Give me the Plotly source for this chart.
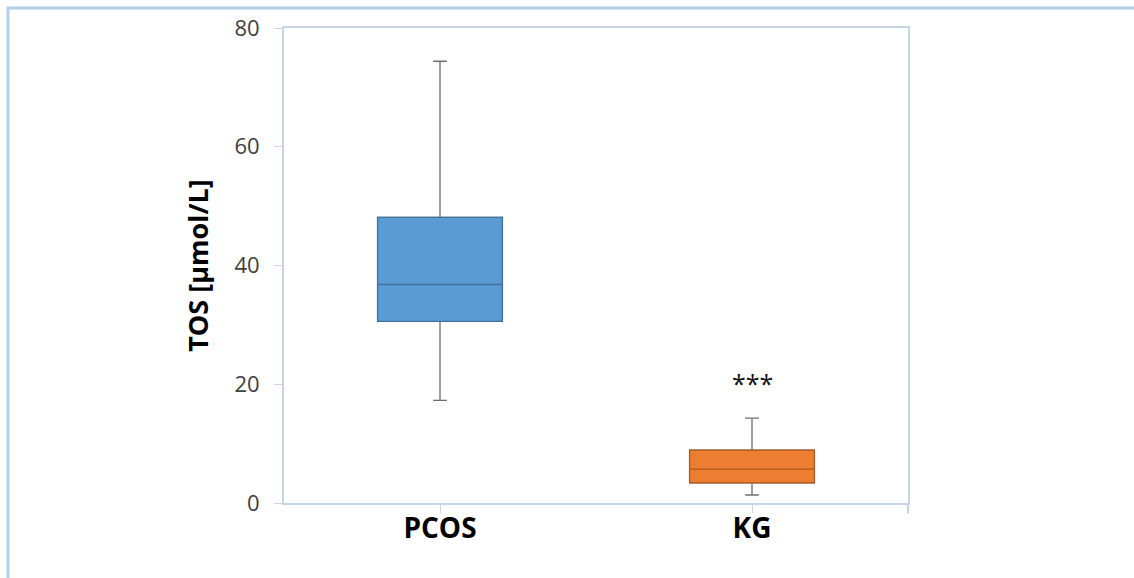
import plotly.graph_objects as go

# ---- data ----
groups = ["PCOS", "KG"]
lower_whisker = [17.3, 1.35]
q1_values = [30.6, 3.4]
median_values = [36.8, 5.7]
q3_values = [48.1, 8.9]
upper_whisker = [74.4, 14.3]
fill_colors = ["#5B9BD5", "#ED7D31"]
edge_colors = ["#41719C", "#AE5A21"]
y_ticks = [0, 20, 40, 60, 80]
sig_label = "***"
sig_group = "KG"
sig_y = 20.2
y_title = "TOS [µmol/L]"

W, H = 1134, 578
L, R, T, B = 284, 226, 28, 75

fig = go.Figure()
for i, g in enumerate(groups):
    # full box with grey whiskers
    fig.add_trace(go.Box(
        x=[g], q1=[q1_values[i]], median=[median_values[i]], q3=[q3_values[i]],
        lowerfence=[lower_whisker[i]], upperfence=[upper_whisker[i]],
        fillcolor=fill_colors[i], line=dict(color="#6e6e6e", width=1.3),
        width=0.4, whiskerwidth=0.11, showlegend=False, hoverinfo="skip",
        boxpoints=False,
    ))
    # box body with coloured outline on top
    fig.add_trace(go.Box(
        x=[g], q1=[q1_values[i]], median=[median_values[i]], q3=[q3_values[i]],
        lowerfence=[q1_values[i]], upperfence=[q3_values[i]],
        fillcolor=fill_colors[i], line=dict(color=edge_colors[i], width=1.3),
        width=0.4, whiskerwidth=0, showlegend=False, hoverinfo="skip",
        boxpoints=False,
    ))

fig.add_annotation(x=sig_group, y=sig_y, text=sig_label, showarrow=False,
                   xref="x", yref="y", yanchor="middle",
                   font=dict(family="Open Sans", size=25, color="#111111"))

axis_line = "#c5d5e5"
fig.update_layout(
    width=W, height=H,
    margin=dict(l=L, r=R, t=T, b=B, pad=0),
    paper_bgcolor="white", plot_bgcolor="white",
    boxmode="overlay",
    font=dict(family="Open Sans", color="#404040"),
    xaxis=dict(
        type="category", categoryorder="array", categoryarray=groups,
        range=[-0.5, 1.5],
        showline=True, linecolor=axis_line, linewidth=2, mirror=True,
        showgrid=False, zeroline=False,
        ticks="outside", ticklen=8, tickcolor="#d5d5d5", tickwidth=1,
        tickfont=dict(family="Open Sans", size=28, color="#000000", weight="bold"),
        ticklabelstandoff=-9,
    ),
    yaxis=dict(
        range=[0, 80], tickvals=y_ticks,
        showline=True, linecolor=axis_line, linewidth=2, mirror=True,
        showgrid=False, zeroline=False,
        ticks="outside", ticklen=8, tickcolor="#d5d5d5", tickwidth=1,
        tickfont=dict(family="Open Sans", size=22, color="#404040"),
        ticklabelstandoff=10,
        title=dict(text=y_title, standoff=18,
                   font=dict(family="Open Sans", size=27, color="#000000", weight="bold")),
    ),
)

# right-edge tick extension below the x axis
fig.add_shape(type="line", xref="paper", yref="paper", x0=1, x1=1, y0=0, y1=-0.022,
              line=dict(color=axis_line, width=2))
# outer light-blue frame (partially cropped like the reference)
fig.add_shape(type="rect", xref="paper", yref="paper",
              x0=(8 - L) / (W - L - R), x1=(W + 10 - L) / (W - L - R),
              y0=(H - B - (H + 10)) / (H - T - B), y1=(H - B - 8) / (H - T - B),
              line=dict(color="#b4cfec", width=3), layer="below")

fig.write_html("out.html")
